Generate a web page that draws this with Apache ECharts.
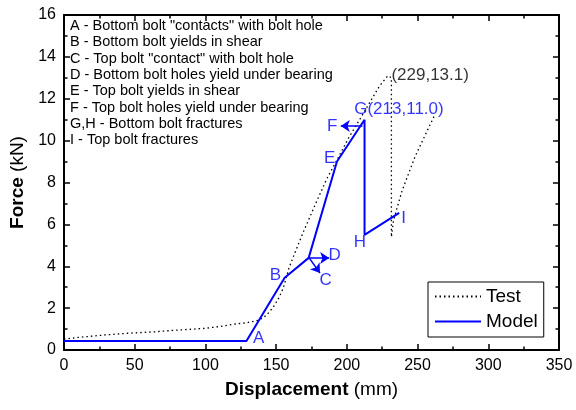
<!DOCTYPE html>
<html>
<head>
<meta charset="utf-8">
<script src="https://cdn.jsdelivr.net/npm/echarts@6/dist/echarts.min.js"></script>
<style>html,body{margin:0;padding:0;background:#fff}#c{width:576px;height:410px}</style>
</head>
<body>
<div id="c"></div>
<script>
// Test curve (dotted)
var testDisp  = [0, 10, 29, 45, 64, 80, 99, 110, 120, 129, 138, 143, 148, 152, 155, 159, 163, 169, 178, 186, 194, 201, 209, 216, 223, 229, 231.5, 231.5, 233, 239, 248, 257, 262];
var testForce = [0.52, 0.6, 0.72, 0.8, 0.87, 0.95, 1.03, 1.12, 1.23, 1.3, 1.43, 1.65, 2.05, 2.5, 2.95, 3.9, 4.6, 5.6, 7.0, 8.2, 9.2, 10.1, 11.0, 11.8, 12.6, 13.1, 13.0, 5.4, 6.2, 7.6, 9.2, 10.5, 11.2];
// Model curve (solid blue)
var modelDisp  = [0, 129, 156, 173, 193, 212.5, 212.5, 237];
var modelForce = [0.43, 0.43, 3.45, 4.4, 9.0, 11.0, 5.5, 6.55];
// Point labels
var labelTexts = ['A', 'B', 'C', 'D', 'E', 'F', 'G(213,11.0)', 'H', 'I'];
var labelDisp  = [137.7, 149.5, 185, 191.3, 187.8, 189.6, 205.2, 209.2, 240.2];
var labelForce = [0.57, 3.58, 3.31, 4.5, 9.15, 10.66, 11.49, 5.12, 6.29];
var peakText = '(229,13.1)';
var peakLabelPos = [231.5, 13.13];
// Arrows [fromDisp, fromForce, toDisp, toForce]
var arrowF = [211, 10.7, 195.7, 10.7];
var arrowD = [173.3, 4.4, 187.5, 4.4];
var arrowC = [173.3, 4.4, 181, 3.68];
// Notes
var notes = [
  'A - Bottom bolt "contacts" with bolt hole',
  'B - Bottom bolt yields in shear',
  'C - Top bolt "contact" with bolt hole',
  'D - Bottom bolt holes yield under bearing',
  'E - Top bolt yields in shear',
  'F - Top bolt holes yield under bearing',
  'G,H - Bottom bolt fractures',
  'I - Top bolt fractures'
];
var xTicks = [0, 350, 50];
var yTicks = [0, 16, 2];

function zip(a, b) { return a.map(function (v, i) { return [v, b[i]]; }); }
var FONT = '"Liberation Sans", Arial, sans-serif';
var BLUE = '#0000ff';

var labelData = labelTexts.map(function (t, i) {
  var left = (t.length > 1);
  return {
    value: [labelDisp[i], labelForce[i]],
    label: {
      show: true, formatter: t, color: BLUE, fontSize: 17, fontFamily: FONT,
      position: left ? 'right' : 'inside', distance: 0,
      align: left ? 'left' : 'center', verticalAlign: 'middle'
    }
  };
});
labelData.push({
  value: peakLabelPos,
  label: { show: true, formatter: peakText, color: '#000', fontSize: 17, fontFamily: FONT,
           position: 'right', distance: 0, align: 'left', verticalAlign: 'middle' }
});

function arrowLine(a) {
  return [{ coord: [a[0], a[1]] }, { coord: [a[2], a[3]] }];
}

var axisCommon = {
  axisLine: { show: true, onZero: false, lineStyle: { color: '#000', width: 2 } },
  axisTick: { show: true, inside: true, length: 6, lineStyle: { color: '#000', width: 1.5 } },
  minorTick: { show: true, splitNumber: 2, length: 3.5, lineStyle: { color: '#000', width: 1.5 } },
  splitLine: { show: false },
  minorSplitLine: { show: false }
};

var chart = echarts.init(document.getElementById('c'), null, { renderer: 'canvas' });
chart.setOption({
  animation: false,
  backgroundColor: '#fff',
  textStyle: { fontFamily: FONT },
  grid: { left: 58, right: 17, top: 15, bottom: 60, containLabel: false },
  xAxis: [
    Object.assign({
      type: 'value', min: xTicks[0], max: xTicks[1], interval: xTicks[2], position: 'bottom',
      name: '{b|Displacement} (mm)', nameLocation: 'middle', nameGap: 30,
      nameTextStyle: { color: '#000', fontSize: 19, fontFamily: FONT,
        rich: { b: { fontWeight: 'bold', fontSize: 19, fontFamily: FONT, color: '#000' } } },
      axisLabel: { color: '#000', fontSize: 16, margin: 8, fontFamily: FONT }
    }, axisCommon),
    Object.assign({
      type: 'value', min: xTicks[0], max: xTicks[1], interval: xTicks[2], position: 'top',
      axisLabel: { show: false }
    }, axisCommon)
  ],
  yAxis: [
    Object.assign({
      type: 'value', min: yTicks[0], max: yTicks[1], interval: yTicks[2], position: 'left',
      name: '{b|Force} (kN)', nameLocation: 'middle', nameGap: 37, nameRotate: 90,
      nameTextStyle: { color: '#000', fontSize: 19, fontFamily: FONT,
        rich: { b: { fontWeight: 'bold', fontSize: 19, fontFamily: FONT, color: '#000' } } },
      axisLabel: { color: '#000', fontSize: 16, margin: 8, fontFamily: FONT }
    }, axisCommon),
    Object.assign({
      type: 'value', min: yTicks[0], max: yTicks[1], interval: yTicks[2], position: 'right',
      axisLabel: { show: false }
    }, axisCommon)
  ],
  legend: {
    data: ['Test', 'Model'],
    orient: 'vertical', left: 428, top: 282,
    padding: [4, 6, 5, 6],
    itemWidth: 46, itemHeight: 14, itemGap: 4,
    borderColor: '#000', borderWidth: 1, borderRadius: 0,
    backgroundColor: '#fff',
    itemStyle: { color: 'rgba(0,0,0,0)', borderWidth: 0, opacity: 0 },
    textStyle: { color: '#000', fontSize: 19, fontFamily: FONT, lineHeight: 21, padding: [0, 0, 0, 0] },
    selectedMode: false
  },
  graphic: [{
    type: 'text', left: 70, top: 18, silent: true,
    style: { text: notes.join('\n'), fontSize: 14.5, lineHeight: 16.3, fill: '#000', fontFamily: FONT }
  }],
  series: [
    {
      name: 'Test', type: 'line', data: zip(testDisp, testForce), symbol: 'none',
      lineStyle: { color: '#000', width: 1.3, type: [1.5, 3] }, itemStyle: { color: '#000' },
      z: 2
    },
    {
      name: 'Model', type: 'line', data: zip(modelDisp, modelForce), symbol: 'none',
      lineStyle: { color: BLUE, width: 2 }, itemStyle: { color: BLUE },
      z: 3,
      markLine: {
        silent: true, symbol: ['none', 'arrow'], symbolSize: 9,
        label: { show: false },
        lineStyle: { color: BLUE, width: 1.5, type: 'solid' },
        data: [arrowLine(arrowF), arrowLine(arrowD), arrowLine(arrowC)]
      }
    },
    {
      name: 'labels', type: 'scatter', data: labelData, symbol: 'circle', symbolSize: 0.01,
      itemStyle: { color: 'rgba(0,0,0,0)' }, silent: true, z: 4
    }
  ]
});
</script>
</body>
</html>
